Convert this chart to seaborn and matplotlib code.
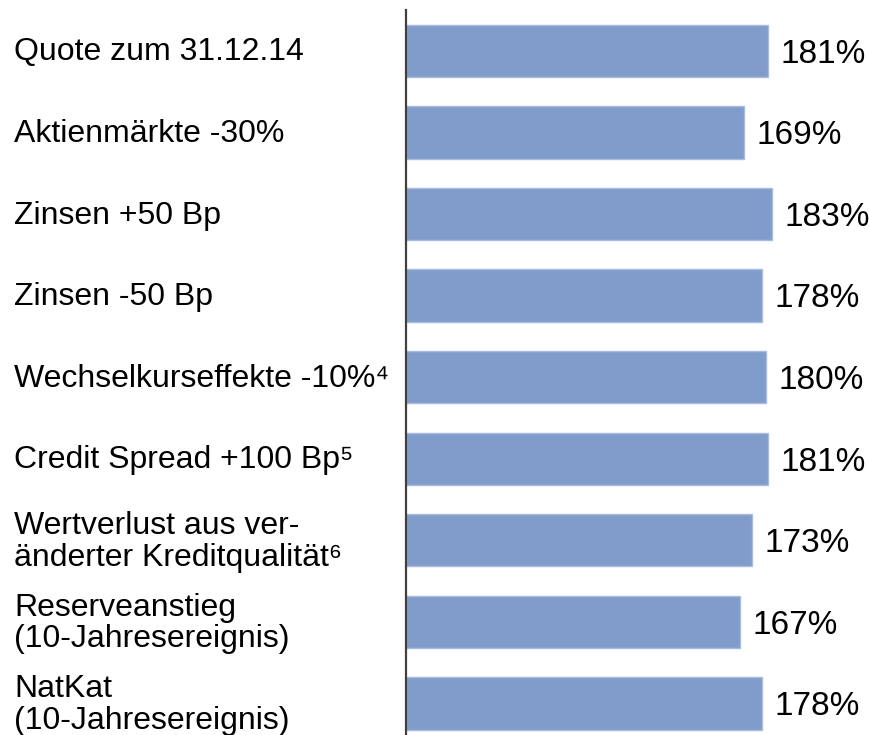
import matplotlib
matplotlib.use("Agg")
import matplotlib.pyplot as plt
import matplotlib.transforms as mtransforms
import pandas as pd
import seaborn as sns

# Solvency ratios per stress scenario
scenarios = [
    "Quote zum 31.12.14",
    "Aktienmärkte -30%",
    "Zinsen +50 Bp",
    "Zinsen -50 Bp",
    "Wechselkurseffekte -10%\u2074",
    "Credit Spread +100 Bp\u2075",
    "Wertverlust aus ver-\nänderter Kreditqualität\u2076",
    "Reserveanstieg\n(10-Jahresereignis)",
    "NatKat\n(10-Jahresereignis)",
]
ratios = [181, 169, 183, 178, 180, 181, 173, 167, 178]

df = pd.DataFrame({"scenario": scenarios, "ratio": ratios})

sns.set_style("white")
plt.rcParams["font.family"] = ["Liberation Sans", "DejaVu Sans"]

fig = plt.figure(figsize=(8.7, 7.35), dpi=100)
ax = fig.add_axes([406 / 870, 0.0, 1 - 406 / 870, 725 / 735])

sns.barplot(
    data=df,
    x="ratio",
    y="scenario",
    orient="h",
    color="#7f9ccb",
    saturation=1,
    width=0.64,
    edgecolor="#a9bbdf",
    linewidth=1,
    ax=ax,
)

ax.set_xlim(0, 232)
ax.set_ylim(8.385, -0.5)
ax.set_xlabel("")
ax.set_ylabel("")
ax.set_xticks([])
ax.set_yticks([])

for side in ["top", "right", "bottom"]:
    ax.spines[side].set_visible(False)
ax.spines["left"].set_color("#404040")
ax.spines["left"].set_linewidth(1.6)

# category labels on the left, left aligned in figure coords
trans = mtransforms.blended_transform_factory(fig.transFigure, ax.transData)
for i, label in enumerate(df["scenario"]):
    fig.text(
        14 / 870,
        i + 0.02,
        label,
        transform=trans,
        ha="left",
        va="center",
        fontsize=23,
        linespacing=1.07,
        color="black",
    )

for i, v in enumerate(df["ratio"]):
    ax.text(v + 6.5, i + 0.04, f"{v}%", ha="left", va="center",
            fontsize=24, color="black", clip_on=False)

fig.savefig("out.png", dpi=100)
